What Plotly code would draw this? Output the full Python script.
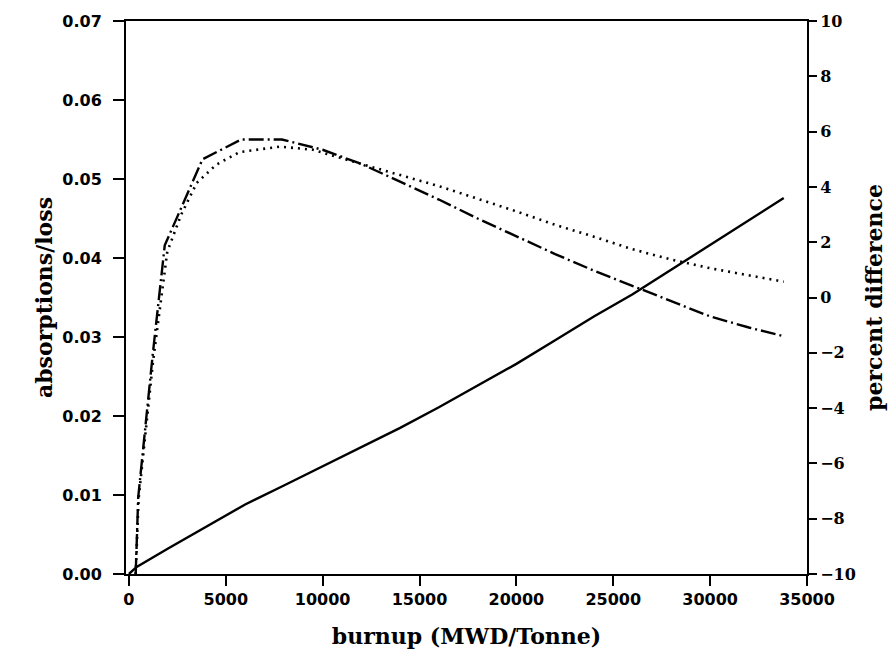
import plotly.graph_objects as go

# burnup (MWD/Tonne)
burnup_solid = [0, 400, 2000, 4000, 6000, 8000, 10000, 12000, 14000, 16000, 18000,
                20000, 22000, 24000, 26000, 28000, 30000, 32000, 33800]
loss_solid = [0.0, 0.0009, 0.0032, 0.0060, 0.0088, 0.0112, 0.0136, 0.0160, 0.0185,
              0.0211, 0.0238, 0.0266, 0.0296, 0.0326, 0.0354, 0.0385, 0.0416, 0.0447, 0.0476]

burnup_dashdot = [350, 480, 1230, 1850, 3800, 5800, 7900, 10000, 12000, 14000, 16000,
                  18000, 20000, 22000, 24000, 26000, 28000, 30000, 32000, 33800]
loss_dashdot = [0.0, 0.0097, 0.0278, 0.0416, 0.0525, 0.0550, 0.0550, 0.0537, 0.0519,
                0.0497, 0.0474, 0.0450, 0.0427, 0.0405, 0.0384, 0.0365, 0.0345, 0.0326,
                0.0312, 0.0301]

burnup_dotted = [350, 500, 1250, 1980, 2700, 3500, 4500, 5700, 7800, 9500, 12000, 14000,
                 16000, 18000, 20000, 22000, 24000, 26000, 28000, 30000, 32000, 33800]
loss_dotted = [0.0, 0.0095, 0.0270, 0.0408, 0.0455, 0.0495, 0.0518, 0.0534, 0.0541,
               0.0537, 0.0519, 0.0505, 0.0491, 0.0475, 0.0459, 0.0442, 0.0427, 0.0411,
               0.0398, 0.0387, 0.0378, 0.0370]

x_ticks = [0, 5000, 10000, 15000, 20000, 25000, 30000, 35000]
left_ticks = [0.00, 0.01, 0.02, 0.03, 0.04, 0.05, 0.06, 0.07]
right_ticks = [-10, -8, -6, -4, -2, 0, 2, 4, 6, 8, 10]

fig = go.Figure()
fig.add_trace(go.Scatter(x=burnup_solid, y=loss_solid, mode="lines",
                         line=dict(color="black", width=2.4), showlegend=False))
fig.add_trace(go.Scatter(x=burnup_dashdot, y=loss_dashdot, mode="lines",
                         line=dict(color="black", width=2.4, dash="15px,4px,2px,4px"),
                         showlegend=False))
fig.add_trace(go.Scatter(x=burnup_dotted, y=loss_dotted, mode="lines",
                         line=dict(color="black", width=2.6, dash="2px,5px"),
                         showlegend=False))
# right axis carrier (no visible marks)
fig.add_trace(go.Scatter(x=[None], y=[None], yaxis="y2", mode="lines",
                         showlegend=False, hoverinfo="skip"))

tick_font = dict(family="DejaVu Sans", size=16, color="black", weight="bold")
title_font = dict(family="DejaVu Serif", size=22, color="black", weight="bold")

fig.update_layout(
    width=895, height=660,
    margin=dict(l=126, r=85, t=18, b=86),
    paper_bgcolor="white", plot_bgcolor="white",
    xaxis=dict(range=[-150, 35000], tickvals=x_ticks, tickformat="d", ticks="outside",
               ticklen=10, tickwidth=2, tickcolor="black", showline=True,
               linecolor="black", linewidth=2, mirror=True, showgrid=False,
               zeroline=False, tickfont=tick_font,
               title=dict(text="burnup (MWD/Tonne)", font=title_font, standoff=20)),
    yaxis=dict(range=[0, 0.07], tickvals=left_ticks, tickformat=".2f", ticks="outside",
               ticklen=11, tickwidth=2, tickcolor="black", showline=True,
               linecolor="black", linewidth=2, showgrid=False, zeroline=False,
               tickfont=tick_font, ticklabelstandoff=8,
               title=dict(text="absorptions/loss", font=title_font, standoff=4)),
    yaxis2=dict(range=[-10, 10], tickvals=right_ticks, overlaying="y", side="right",
                ticks="outside", ticklen=8, tickwidth=2, tickcolor="black",
                showline=True, linecolor="black", linewidth=2, showgrid=False,
                zeroline=False,
                tickfont=dict(family="DejaVu Serif", size=16, color="black", weight="bold"),
                title=dict(text="percent difference", font=title_font, standoff=12)),
)

fig.write_html("out.html")
